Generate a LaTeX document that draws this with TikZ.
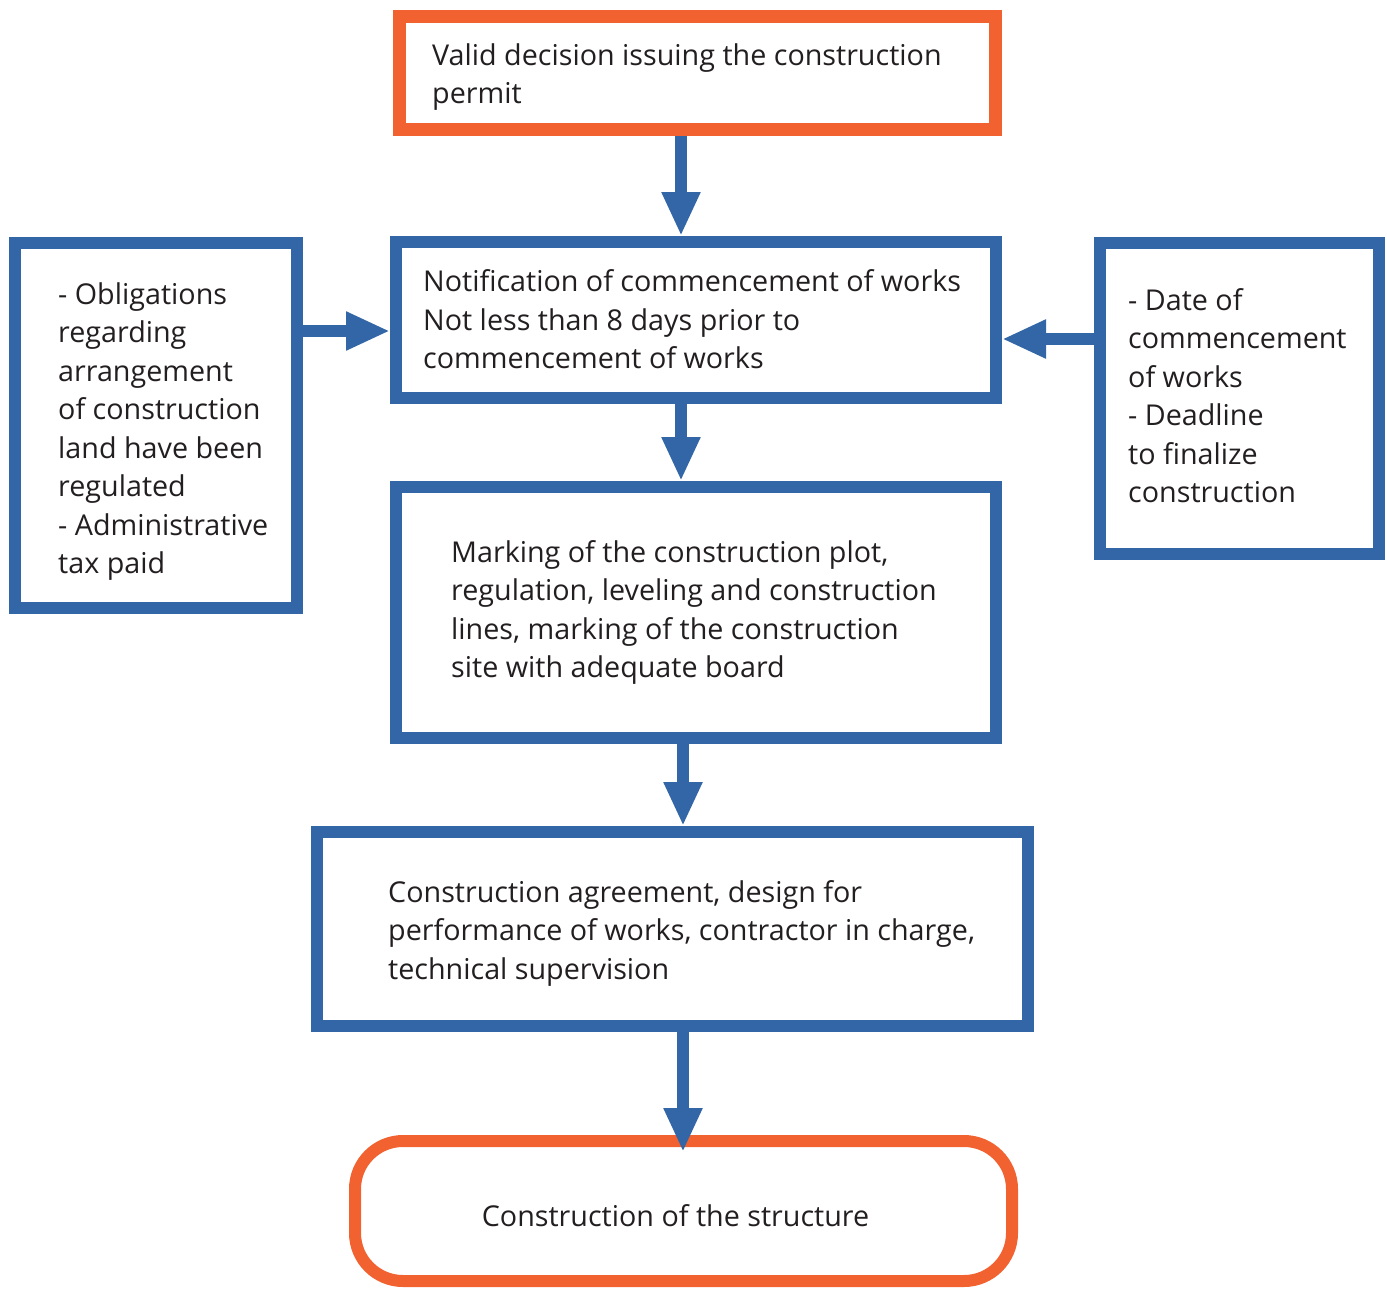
\documentclass[tikz,border=0pt]{standalone}
\usepackage{fontspec}
\setmainfont{Open Sans}
\usetikzlibrary{arrows.meta}
\definecolor{bblue}{RGB}{51,102,166}
\definecolor{borange}{RGB}{242,98,48}
\definecolor{tblack}{RGB}{35,31,32}
\begin{document}
\begin{tikzpicture}[x=1pt,y=-1pt,
  box/.style={draw=bblue,line width=12pt,minimum width=#1,inner sep=0pt,fill=white},
  obox/.style={draw=borange,line width=13pt,inner sep=0pt,fill=white},
  txt/.style={anchor=west,align=left,inner sep=0pt,text=tblack,font=\fontsize{28.7}{38.5}\selectfont},
  arr/.style={draw=bblue,line width=12pt,-{Triangle[length=44pt,width=36pt]}}]
\useasboundingbox (0,0) rectangle (1387,1288);
% boxes (centre-line coordinates)
\node[obox,minimum width=596pt,minimum height=113pt] (top) at (697.5,73) {};
\node[box=600pt,minimum height=156pt] (notif) at (696,320) {};
\node[box=282pt,minimum height=365pt] (left) at (156,425.5) {};
\node[box=279pt,minimum height=311pt] (right) at (1239.5,398.5) {};
\node[box=600pt,minimum height=251pt] (mark) at (696,612.5) {};
\node[box=711pt,minimum height=194pt] (agree) at (672.5,929) {};
\node[draw=borange,line width=12pt,rounded corners=48pt,minimum width=657pt,minimum height=140pt,inner sep=0pt] (final) at (683.5,1211) {};
% texts
\node[txt] (ttop) at ([xshift=39pt,yshift=-4pt]top.west) {Valid decision issuing the construction\\permit};
\node[txt] (tnotif) at ([xshift=33pt,yshift=0.5pt]notif.west) {Notification of commencement of works\\Not less than 8 days prior to\\commencement of works};
\node[txt] (tleft) at ([xshift=49pt,yshift=-6pt]left.west) {- Obligations\\regarding\\arrangement\\of construction\\land have been\\regulated\\- Administrative\\tax paid};
\node[txt] (tright) at ([xshift=34pt,yshift=3pt]right.west) {- Date of\\commencement\\of works\\- Deadline\\to finalize\\construction};
\node[txt] (tmark) at ([xshift=61pt,yshift=0pt]mark.west) {Marking of the construction plot,\\regulation, leveling and construction\\lines, marking of the construction\\site with adequate board};
\node[txt] (tagree) at ([xshift=77pt,yshift=-4pt]agree.west) {Construction agreement, design for\\performance of works, contractor in charge,\\technical supervision};
\node[txt,anchor=center] (tfinal) at (675.5,1216) {Construction of the structure};
% connectors
\coordinate (c1) at (681,0);
\coordinate (c2) at (683,0);
\coordinate (ly) at (0,331);
\coordinate (ry) at (0,339);
\draw[arr] (top.south -| c1) -- (notif.north -| c1);
\draw[arr] (notif.south -| c1) -- (mark.north -| c1);
\draw[arr] (mark.south -| c2) -- (agree.north -| c2);
\draw[arr] (agree.south -| c2) -- ([yshift=-17pt]final.north -| c2);
\draw[arr] (left.east |- ly) -- (notif.west |- ly);
\draw[arr] (right.west |- ry) -- (notif.east |- ry);
\end{tikzpicture}
\end{document}
